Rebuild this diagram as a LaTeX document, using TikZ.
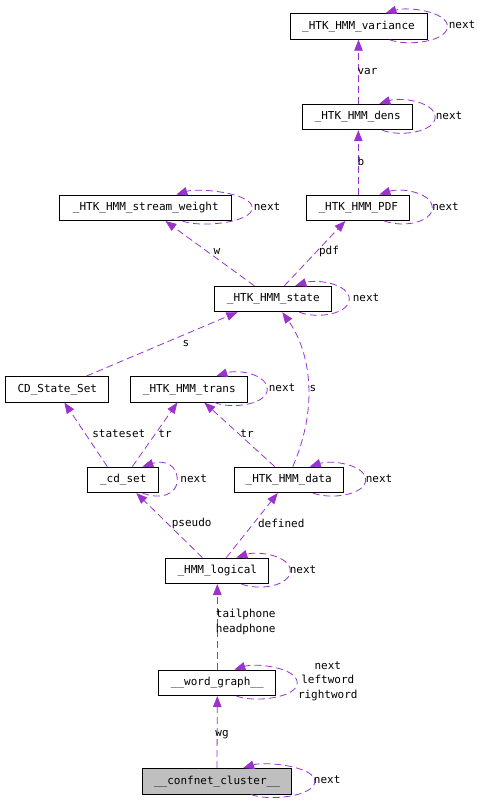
\documentclass[tikz,border=0pt]{standalone}
\usepackage{fontspec}
\setmonofont{DejaVu Sans Mono}
\usetikzlibrary{arrows.meta,calc}
\definecolor{edgecol}{HTML}{9A32CD}
\definecolor{focusfill}{HTML}{BFBFBF}
\tikzset{
  cls/.style={draw=black, line width=0.9pt, fill=white, minimum height=25.5pt, inner sep=0pt,
    font=\ttfamily\fontsize{11}{14.5}\selectfont},
  lbl/.style={inner sep=0pt, font=\ttfamily\fontsize{11}{14.5}\selectfont, align=center},
  edge/.style={draw=edgecol, line width=0.8pt, dash pattern=on 7pt off 4pt,
    -{Triangle[length=11pt,width=8.5pt,fill=edgecol]}},
}
\newcommand{\selfloop}[4]{% node, start dx from west, end dx from west, bulge
  \draw[edge] ($(#1.south west)+(#2,0)$) .. controls +(18,7) and +(0,15) .. ($(#1.east)+(#4,0)$)
    .. controls +(0,-15) and +(22,-7) .. ($(#1.north west)+(#3,0)$);
}
\begin{document}
\begin{tikzpicture}[x=1pt,y=-1pt]
\useasboundingbox (0,0) rectangle (483,807);
% nodes
\node[cls, minimum width=137pt] (var) at (358.5,26.5) {\_HTK\_HMM\_variance};
\node[cls, minimum width=110pt] (dens) at (357.7,117) {\_HTK\_HMM\_dens};
\node[cls, minimum width=103pt] (pdf) at (358.3,207.7) {\_HTK\_HMM\_PDF};
\node[cls, minimum width=172pt] (sw) at (145.8,207.8) {\_HTK\_HMM\_stream\_weight};
\node[cls, minimum width=117pt] (state) at (273.3,299) {\_HTK\_HMM\_state};
\node[cls, minimum width=103pt] (cdss) at (57.3,389.3) {CD\_State\_Set};
\node[cls, minimum width=117pt] (trans) at (189.3,389.3) {\_HTK\_HMM\_trans};
\node[cls, minimum width=71pt] (cdset) at (123.3,479.8) {\_cd\_set};
\node[cls, minimum width=109pt] (data) at (288.7,479.8) {\_HTK\_HMM\_data};
\node[cls, minimum width=103pt] (logical) at (217.3,570.8) {\_HMM\_logical};
\node[cls, minimum width=117pt] (wg) at (217.3,682.8) {\_\_word\_graph\_\_};
\node[cls, minimum width=149pt, fill=focusfill] (cc) at (217,781.3) {\_\_confnet\_cluster\_\_};

% edges
\draw[edge] (var.south |- dens.north) -- (var.south);
\draw[edge] (pdf.north) -- (pdf.north |- dens.south);
\draw[edge] ($(state.north west)+(40,0)$) -- ($(sw.south west)+(106,0)$);
\draw[edge] ($(state.north west)+(70,0)$) -- ($(pdf.south west)+(39,0)$);
\draw[edge] ($(cdss.north west)+(81,0)$) -- ($(state.south west)+(23,0)$);
\draw[edge] ($(data.north west)+(59,0)$) .. controls +(27,-62) and +(27,38) .. ($(state.south west)+(68,0)$);
\draw[edge] ($(cdset.north west)+(20,0)$) -- ($(cdss.south west)+(59,0)$);
\draw[edge] ($(cdset.north west)+(45,0)$) -- ($(trans.south west)+(47,0)$);
\draw[edge] ($(data.north west)+(41,0)$) -- ($(trans.south west)+(74,0)$);
\draw[edge] ($(logical.north west)+(37,0)$) -- ($(cdset.south west)+(49,0)$);
\draw[edge] ($(logical.north west)+(61,0)$) -- ($(data.south west)+(44,0)$);
\draw[edge] (wg.north) -- (logical.south);
\draw[edge] (cc.north) -- (wg.south);

% self loops
\selfloop{var}{100}{96}{20}
\selfloop{dens}{80}{77}{22}
\selfloop{pdf}{78}{73}{22}
\selfloop{sw}{123}{117}{20}
\selfloop{state}{85}{81}{17}
\selfloop{trans}{84}{86}{19}
\selfloop{cdset}{55}{55}{18}
\selfloop{data}{79}{76}{22}
\selfloop{logical}{76}{71}{21}
\selfloop{wg}{78}{76}{21}
\selfloop{cc}{109}{101}{23}

% labels
\node[lbl] (lvar) at (367.5,71) {var};
\node[lbl] (lb) at (361,161) {b};
\node[lbl] (lw) at (217,251) {w};
\node[lbl] (lpdf) at (329,251) {pdf};
\node[lbl] (ls1) at (186,343) {s};
\node[lbl] (ls2) at (313,388) {s};
\node[lbl] (lstateset) at (118.8,433.3) {stateset};
\node[lbl] (ltr1) at (165,433.3) {tr};
\node[lbl] (ltr2) at (247,433.3) {tr};
\node[lbl] (lpseudo) at (191.7,523.3) {pseudo};
\node[lbl] (ldefined) at (281.3,523.3) {defined};
\node[lbl] (ltail) at (245.8,622) {tailphone\\headphone};
\node[lbl] (lwg) at (222,735) {wg};
\node[lbl] (ln1) at (462,25) {next};
\node[lbl] (ln2) at (449,116) {next};
\node[lbl] (ln3) at (445.5,207) {next};
\node[lbl] (ln4) at (267,207) {next};
\node[lbl] (ln5) at (366,298) {next};
\node[lbl] (ln6) at (282,388) {next};
\node[lbl] (ln7) at (193.7,479) {next};
\node[lbl] (ln8) at (379,479) {next};
\node[lbl] (ln9) at (303,570) {next};
\node[lbl] (ln10) at (327.8,681) {next\\leftword\\rightword};
\node[lbl] (ln11) at (327.2,780) {next};
\end{tikzpicture}
\end{document}
